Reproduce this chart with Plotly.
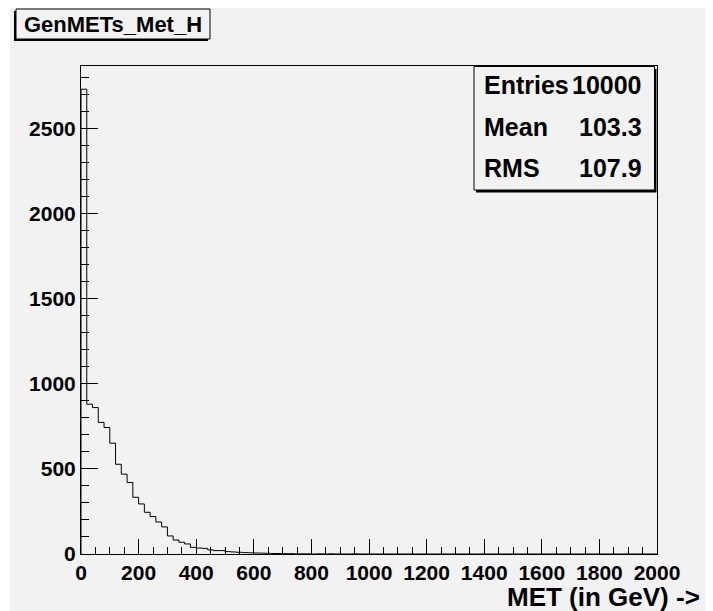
import numpy as np
import plotly.graph_objects as go

# ---------------- data ----------------
bin_width = 20
x_min, x_max = 0, 2000
counts = [
    2730, 880, 860, 773, 743, 651, 527, 469, 420, 333,
    294, 245, 220, 188, 159, 106, 82, 69, 59, 39,
    35, 33, 24, 20, 20, 14, 12, 10, 8, 7,
    6, 5, 4, 3, 3, 2, 2, 1, 1, 1,
    0, 1, 0, 1, 0, 0, 0, 1, 0, 0,
] + [0] * 50
title_text = "GenMETs_Met_H"
x_title = "MET (in GeV) ->"
stats_labels = ["Entries", "Mean", "RMS"]
stats_values = ["10000", "103.3", "107.9"]
y_max = max(counts) * 1.05

edges = np.arange(x_min, x_max + bin_width, bin_width)
xs = [x_min] + edges[:-1].tolist() + [x_max]
ys = [0] + counts + [0]

# ---------------- layout helpers ----------------
W, H = 713, 611          # page size
OFF = 8                  # default body margin of the page
L, R, T, B = 81, 657, 66, 554   # plot frame in page pixels
PW, PH = R - L, B - T


def px(x):
    return (x - L) / PW


def py(y):
    return (B - y) / PH


FONT = "Liberation Sans, Arial, Helvetica, sans-serif"
BG = "#f2f2f2"

fig = go.Figure()
fig.add_trace(go.Scatter(
    x=xs, y=ys, mode="lines", line=dict(color="black", width=1, shape="hv"),
    hoverinfo="skip", showlegend=False,
))

shapes = []
# pad background
shapes.append(dict(type="rect", xref="paper", yref="paper", layer="below",
                   x0=px(10), x1=px(W + 5), y0=py(6), y1=py(H + 5),
                   fillcolor=BG, line=dict(width=0)))
# title box shadow + box
shapes.append(dict(type="rect", xref="paper", yref="paper",
                   x0=px(14), x1=px(208), y0=py(11), y1=py(41),
                   fillcolor="black", line=dict(width=0)))
shapes.append(dict(type="rect", xref="paper", yref="paper",
                   x0=px(16), x1=px(210), y0=py(9), y1=py(39),
                   fillcolor=BG, line=dict(color="black", width=1)))
# stats box shadow + box
shapes.append(dict(type="rect", xref="paper", yref="paper",
                   x0=px(476), x1=px(656.5), y0=py(69), y1=py(192.5),
                   fillcolor="black", line=dict(width=0)))
shapes.append(dict(type="rect", xref="paper", yref="paper",
                   x0=px(474), x1=px(654.5), y0=py(66.5), y1=py(190),
                   fillcolor=BG, line=dict(color="black", width=1)))

annotations = [
    dict(text=title_text, xref="paper", yref="paper", x=px(113), y=py(24.5),
         xanchor="center", yanchor="middle", showarrow=False,
         font=dict(family=FONT, size=22, color="black", weight="bold")),
    dict(text=x_title, xref="paper", yref="paper", x=px(702), y=py(597),
         xanchor="right", yanchor="middle", showarrow=False,
         font=dict(family=FONT, size=26, color="black", weight="bold")),
]
row_y = [85, 127, 168]
for lab, val, yy in zip(stats_labels, stats_values, row_y):
    annotations.append(dict(text=lab, xref="paper", yref="paper", x=px(482), y=py(yy),
                            xanchor="left", yanchor="middle", showarrow=False,
                            font=dict(family=FONT, size=25, color="black", weight="bold")))
    annotations.append(dict(text=val, xref="paper", yref="paper", x=px(644), y=py(yy),
                            xanchor="right", yanchor="middle", showarrow=False,
                            font=dict(family=FONT, size=25, color="black", weight="bold")))

tickfont = dict(family=FONT, size=21, color="black", weight="bold")
fig.update_layout(
    width=W - OFF, height=H - OFF,
    margin=dict(l=L - OFF, r=W - R, t=T - OFF, b=H - B, pad=0),
    paper_bgcolor="white", plot_bgcolor=BG,
    shapes=shapes, annotations=annotations,
    xaxis=dict(range=[x_min, x_max], showgrid=False, zeroline=False,
               showline=True, linecolor="black", linewidth=1, mirror=True,
               ticks="inside", ticklen=15, tickcolor="black", tickwidth=1,
               tick0=0, dtick=200, tickfont=tickfont,
               minor=dict(dtick=50, ticks="inside", ticklen=7, tickcolor="black", showgrid=False)),
    yaxis=dict(range=[0, y_max], showgrid=False, zeroline=False,
               showline=True, linecolor="black", linewidth=1, mirror=True,
               ticks="inside", ticklen=17, tickcolor="black", tickwidth=1,
               tick0=0, dtick=500, tickfont=tickfont,
               minor=dict(dtick=100, ticks="inside", ticklen=8, tickcolor="black", showgrid=False)),
)

fig.write_html("out.html")
